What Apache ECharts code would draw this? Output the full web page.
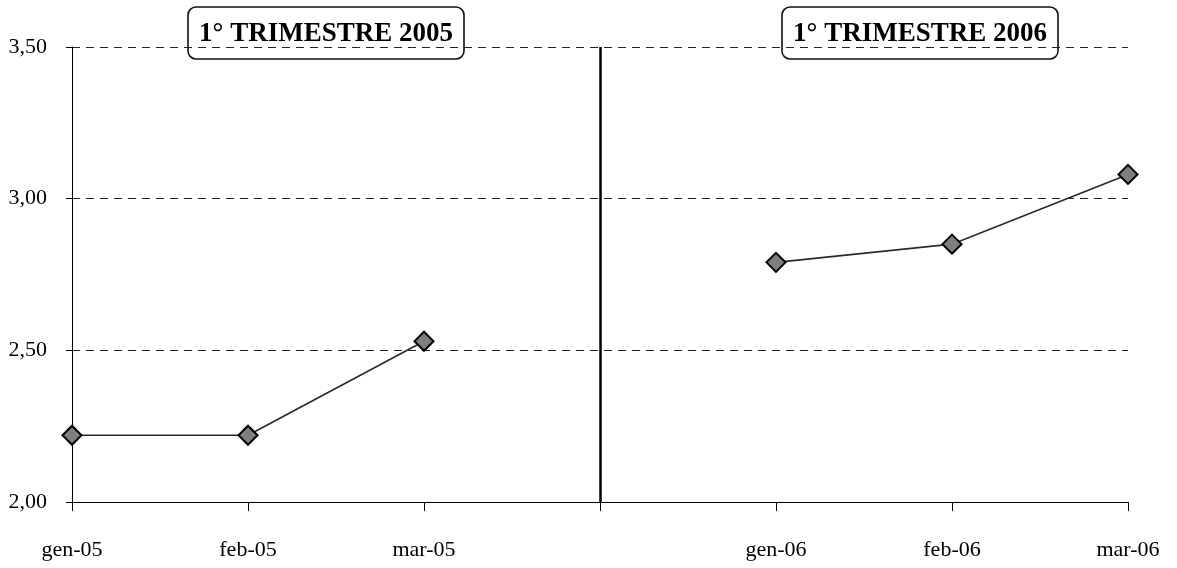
<!DOCTYPE html>
<html>
<head>
<meta charset="utf-8">
<script src="https://cdn.jsdelivr.net/npm/echarts@6/dist/echarts.min.js"></script>
<style>html,body{margin:0;padding:0;background:#fff}#c{width:1177px;height:568px}</style>
</head>
<body>
<div id="c"></div>
<script>
var categories = ['gen-05', 'feb-05', 'mar-05', ' ', 'gen-06', 'feb-06', 'mar-06'];
var values = [2.22, 2.22, 2.53, null, 2.79, 2.85, 3.08];
var panelTitles = ['1° TRIMESTRE 2005', '1° TRIMESTRE 2006'];
var dividerCategory = ' ';

var serif = '"Liberation Serif", "DejaVu Serif", serif';
var chart = echarts.init(document.getElementById('c'));

function titleBox(text, cx) {
  return {
    type: 'group',
    children: [
      { type: 'rect', shape: { x: cx - 138, y: 7, width: 276, height: 52, r: 8 },
        style: { fill: '#fff', stroke: '#111', lineWidth: 1.6 } },
      { type: 'text', style: { text: text, x: cx, y: 34, align: 'center', verticalAlign: 'middle',
        font: 'bold 27px ' + serif, fill: '#000' } }
    ]
  };
}

chart.setOption({
  animation: false,
  backgroundColor: '#fff',
  grid: { left: 72, right: 49, top: 47, bottom: 66, containLabel: false },
  xAxis: {
    type: 'category',
    data: categories,
    boundaryGap: false,
    axisLine: { lineStyle: { color: '#000', width: 1.2 } },
    axisTick: { show: true, length: 9, lineStyle: { color: '#000' } },
    axisLabel: { color: '#000', fontFamily: serif, fontSize: 22, margin: 37 },
    splitLine: { show: false }
  },
  yAxis: {
    type: 'value',
    min: 2, max: 3.5, interval: 0.5,
    axisLine: { show: true, lineStyle: { color: '#000', width: 1 } },
    axisTick: { show: true, length: 6, lineStyle: { color: '#000' } },
    axisLabel: { color: '#000', fontFamily: serif, fontSize: 22, margin: 25,
      formatter: function (v) { return v.toFixed(2).replace('.', ','); } },
    splitLine: { show: true, lineStyle: { color: '#222', width: 1, type: [8, 6] } }
  },
  series: [{
    type: 'line',
    data: values,
    connectNulls: false,
    symbol: 'diamond',
    symbolSize: 19,
    lineStyle: { color: '#2a2a2a', width: 1.6 },
    itemStyle: { color: '#7f7f7f', borderColor: '#000', borderWidth: 2 },
    markLine: {
      silent: true,
      symbol: ['none', 'none'],
      label: { show: false },
      lineStyle: { color: '#000', width: 2.5, type: 'solid' },
      data: [{ xAxis: dividerCategory }]
    }
  }],
  graphic: [titleBox(panelTitles[0], 326), titleBox(panelTitles[1], 920)]
});
</script>
</body>
</html>
